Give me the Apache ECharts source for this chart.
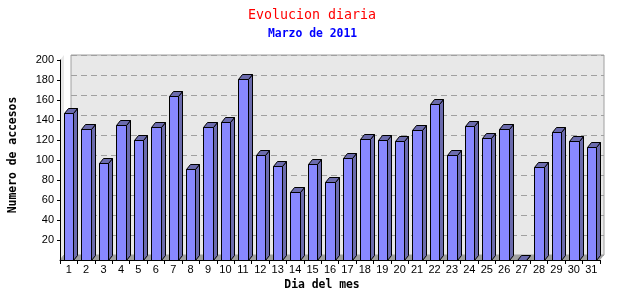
<!DOCTYPE html>
<html><head><meta charset="utf-8">
<script src="https://cdn.jsdelivr.net/npm/echarts@6/dist/echarts.min.js"></script>
<style>html,body{margin:0;padding:0;background:#fff}#c{width:640px;height:300px}</style>
</head><body><div id="c"></div>
<script>
const days = ['1','2','3','4','5','6','7','8','9','10','11','12','13','14','15','16','17','18','19','20','21','22','23','24','25','26','27','28','29','30','31'];
const accesos = [147,131,97,135,120,133,164,91,133,138,181,105,94,68,96,78,102,121,120,119,130,156,105,134,122,131,0,93,128,119,113];
const yTicks = {min:0, max:200, interval:20};
const titleText = 'Evolucion diaria';
const subtitleText = 'Marzo de 2011';
const yName = 'Numero de accesos';
const xName = 'Dia del mes';

const DX = 4, DY = 5;
const FRONT = '#8888ff', SIDE = '#6b6bad';
const mono = '"DejaVu Sans Mono", monospace';

const chart = echarts.init(document.getElementById('c'), null, {renderer:'canvas'});
chart.setOption({
  animation:false,
  backgroundColor:'#fff',
  title:[
    {text:titleText, left:243, top:4, textStyle:{fontFamily:mono, fontSize:13.3, fontWeight:'normal', color:'#ff0000'}},
    {text:subtitleText, left:263, top:24, textStyle:{fontFamily:mono, fontSize:11.4, fontWeight:'bold', color:'#0000ff'}}
  ],
  grid:[
    {left:60, right:40, top:60, bottom:40, show:false},
    {left:64, right:36, top:55, bottom:45, show:true, backgroundColor:'#e8e8e8', borderColor:'#a0a0a0', borderWidth:1}
  ],
  xAxis:[
    {type:'category', gridIndex:0, data:days, boundaryGap:true, z:5,
     axisLine:{lineStyle:{color:'#000', width:1}},
     axisTick:{show:true, alignWithLabel:false, length:4, lineStyle:{color:'#000'}},
     axisLabel:{interval:0, margin:4, fontFamily:'"Liberation Sans", sans-serif', fontSize:11, color:'#000'},
     name:xName, nameLocation:'middle', nameGap:20,
     nameTextStyle:{fontFamily:mono, fontSize:11.4, fontWeight:'bold', color:'#000', padding:[0,16,0,0]}},
    {type:'category', gridIndex:1, data:days, show:false}
  ],
  yAxis:[
    {type:'value', gridIndex:0, min:yTicks.min, max:yTicks.max, interval:yTicks.interval, z:5,
     axisLine:{show:true, lineStyle:{color:'#000', width:1}},
     axisTick:{show:true, length:3, lineStyle:{color:'#000'}},
     axisLabel:{showMinLabel:false, margin:6, fontFamily:'"Liberation Sans", sans-serif', fontSize:11, color:'#000'},
     splitLine:{show:false}},
    {type:'value', gridIndex:1, min:yTicks.min, max:yTicks.max, interval:yTicks.interval,
     axisLine:{show:false}, axisTick:{show:false}, axisLabel:{show:false},
     splitLine:{show:true, lineStyle:{color:'#a0a0a0', type:[6,4], width:1}},
     name:yName, nameLocation:'middle', nameGap:52,
     nameTextStyle:{fontFamily:mono, fontSize:11.4, fontWeight:'bold', color:'#000'}}
  ],
  series:[
    {type:'custom', xAxisIndex:0, yAxisIndex:0, z:2, silent:true,
     data:[[0,0]],
     renderItem:function(params, api){
       const band = api.size([1,0])[0];
       const a = api.coord([0,0]);
       const b = api.coord([days.length-1,0]);
       const l = a[0]-band/2, r = b[0]+band/2, y = a[1];
       return {type:'group', children:[
         {type:'polygon', shape:{points:[[l,y],[r,y],[r+DX,y-DY],[l+DX,y-DY]]}, style:{fill:'#a0a0a0', stroke:null}},
         {type:'polygon', shape:{points:[[l,y],[l+DX,y-DY],[l+DX,y-DY-200],[l,y-200]]}, style:{fill:'#e8e8e8', stroke:null}},
         {type:'line', shape:{x1:l, y1:y, x2:l+DX, y2:y-DY}, style:{stroke:'#a0a0a0', lineWidth:1}}
       ]};
     }},
    {type:'custom', name:'Accesos', xAxisIndex:0, yAxisIndex:0, z:3,
     data:accesos.map((v,i)=>[i,v]),
     encode:{x:0, y:1},
     renderItem:function(params, api){
       const i = api.value(0), v = api.value(1);
       const top = api.coord([i, v]);
       const base = api.coord([i, 0]);
       const band = api.size([1,0])[0];
       const bw = band*0.54;
       const x0 = Math.round(top[0]-bw/2)+0.5, x1 = Math.round(top[0]+bw/2)+0.5;
       const yt = Math.round(top[1])+0.5, yb = Math.round(base[1])+0.5;
       const st = {stroke:'#000', lineWidth:1};
       return {type:'group', children:[
         {type:'polygon', shape:{points:[[x1,yt],[x1+DX,yt-DY],[x1+DX,yb-DY],[x1,yb]]}, style:Object.assign({fill:SIDE}, st)},
         {type:'polygon', shape:{points:[[x0,yt],[x0+DX,yt-DY],[x1+DX,yt-DY],[x1,yt]]}, style:Object.assign({fill:SIDE}, st)},
         {type:'rect', shape:{x:x0, y:yt, width:x1-x0, height:yb-yt}, style:Object.assign({fill:FRONT}, st)}
       ]};
     }}
  ]
});
</script></body></html>
